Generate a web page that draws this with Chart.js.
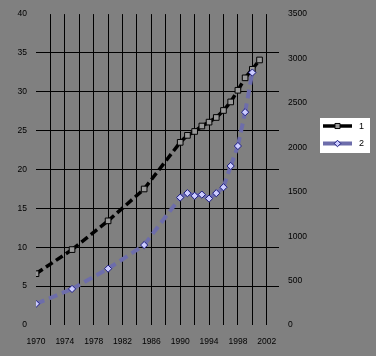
<!DOCTYPE html>
<html>
<head>
<meta charset="utf-8">
<script src="https://cdn.jsdelivr.net/npm/chart.js@4.4.0/dist/chart.umd.min.js"></script>
<style>
html,body{margin:0;padding:0;background:#808080;}
#wrap{width:376px;height:356px;}
</style>
</head>
<body>
<div id="wrap"><canvas id="c" width="376" height="356"></canvas></div>
<script>
// ---- data ----
const seriesNames = ['1', '2'];
const years1 = [1970, 1975, 1980, 1985, 1990, 1991, 1992, 1993, 1994, 1995, 1996, 1997, 1998, 1999, 2000, 2001];
const values1 = [6.6, 9.7, 13.4, 17.5, 23.5, 24.4, 24.9, 25.6, 26.1, 26.7, 27.6, 28.7, 30.2, 31.8, 32.9, 34.1];
const years2 = [1970, 1975, 1980, 1985, 1990, 1991, 1992, 1993, 1994, 1995, 1996, 1997, 1998, 1999, 2000];
const values2 = [238, 406, 634, 900, 1435, 1484, 1454, 1468, 1423, 1484, 1551, 1790, 2015, 2396, 2842];
const xTicks = [1970, 1972, 1974, 1976, 1978, 1980, 1982, 1984, 1986, 1988, 1990, 1992, 1994, 1996, 1998, 2000, 2002];
const xLabelYears = [1970, 1974, 1978, 1982, 1986, 1990, 1994, 1998, 2002];
const leftTicks = [0, 5, 10, 15, 20, 25, 30, 35, 40];
const rightTicks = [0, 500, 1000, 1500, 2000, 2500, 3000, 3500];

Chart.defaults.font.family = "'Liberation Sans', Arial, sans-serif";
Chart.defaults.font.size = 8.5;
Chart.defaults.color = '#000';

const bgPlugin = {
  id: 'bg',
  beforeDraw(chart) {
    const c = chart.ctx;
    c.save();
    c.fillStyle = '#808080';
    c.fillRect(0, 0, chart.width, chart.height);
    c.restore();
  }
};

const legendPlugin = {
  id: 'customLegend',
  afterDraw(chart) {
    const c = chart.ctx;
    c.save();
    const bx = 320, by = 118, bw = 50, bh = 35;
    c.fillStyle = '#ffffff';
    c.fillRect(bx, by, bw, bh);
    chart.data.datasets.forEach((ds, i) => {
      const y = by + 8 + i * 17.5;
      c.strokeStyle = ds.borderColor;
      c.lineWidth = ds.borderWidth;
      c.setLineDash([]);
      c.beginPath();
      c.moveTo(bx + 3, y);
      c.lineTo(bx + 32, y);
      c.stroke();
      c.fillStyle = ds.pointBackgroundColor;
      c.strokeStyle = ds.pointBorderColor;
      c.lineWidth = ds.pointBorderWidth;
      Chart.helpers.drawPoint(c, {
        pointStyle: ds.pointStyle,
        radius: ds.pointRadius * 0.9,
        borderWidth: ds.pointBorderWidth,
        rotation: 0
      }, bx + 17.5, y);
      c.fillStyle = '#000';
      c.font = "9px 'Liberation Sans', Arial, sans-serif";
      c.textBaseline = 'middle';
      c.textAlign = 'left';
      c.fillText(ds.label, bx + 39, y + 0.5);
    });
    c.restore();
  }
};

const restartDash = { borderDashOffset: ctx => (ctx.p0DataIndex % 2) * 0.0001 };

new Chart(document.getElementById('c'), {
  type: 'line',
  data: {
    datasets: [
      {
        label: seriesNames[0],
        data: years1.map((x, i) => ({ x, y: values1[i] })),
        yAxisID: 'y',
        borderColor: '#000000',
        borderWidth: 3.5,
        borderDash: [8, 4],
        borderCapStyle: 'butt',
        pointStyle: 'rect',
        pointRadius: 4,
        pointHoverRadius: 4,
        pointBorderWidth: 1,
        pointBorderColor: '#000000',
        pointBackgroundColor: '#999999',
        tension: 0,
        order: 1,
        segment: restartDash
      },
      {
        label: seriesNames[1],
        data: years2.map((x, i) => ({ x, y: values2[i] })),
        yAxisID: 'y1',
        borderColor: '#6d6dab',
        borderWidth: 4,
        borderDash: [9, 5],
        borderCapStyle: 'butt',
        pointStyle: 'rectRot',
        pointRadius: 3.6,
        pointHoverRadius: 3.6,
        pointBorderWidth: 1,
        pointBorderColor: '#1a1a80',
        pointBackgroundColor: '#ccccff',
        tension: 0,
        order: 0,
        segment: restartDash
      }
    ]
  },
  options: {
    responsive: false,
    animation: false,
    events: [],
    layout: { padding: { top: 14, left: 0, right: 0, bottom: 0 } },
    plugins: { legend: { display: false }, tooltip: { enabled: false } },
    scales: {
      x: {
        type: 'linear',
        min: 1970,
        max: 2003.7,
        afterBuildTicks: s => { s.ticks = xTicks.map(v => ({ value: v })); },
        afterFit: s => { s.height = 31; },
        border: { display: false },
        grid: {
          drawTicks: false,
          lineWidth: 1,
          color: ctx => (ctx.tick && ctx.tick.value === 1970) ? 'rgba(0,0,0,0)' : '#000000'
        },
        ticks: {
          padding: 12,
          maxRotation: 0,
          autoSkip: false,
          callback: v => xLabelYears.includes(v) ? String(v) : ''
        }
      },
      y: {
        position: 'left',
        min: 0,
        max: 40,
        afterBuildTicks: s => { s.ticks = leftTicks.map(v => ({ value: v })); },
        afterFit: s => { s.width = 36; },
        border: { display: false },
        grid: {
          drawTicks: false,
          lineWidth: 1,
          color: ctx => (ctx.tick && (ctx.tick.value === 0 || ctx.tick.value === 40)) ? 'rgba(0,0,0,0)' : '#000000'
        },
        ticks: { padding: 9, callback: v => String(v) }
      },
      y1: {
        position: 'right',
        min: 0,
        max: 3500,
        afterBuildTicks: s => { s.ticks = rightTicks.map(v => ({ value: v })); },
        afterFit: s => { s.width = 97; },
        border: { display: false },
        grid: { display: false, drawTicks: false },
        ticks: { padding: 9, callback: v => String(v) }
      }
    }
  },
  plugins: [bgPlugin, legendPlugin]
});
</script>
</body>
</html>
